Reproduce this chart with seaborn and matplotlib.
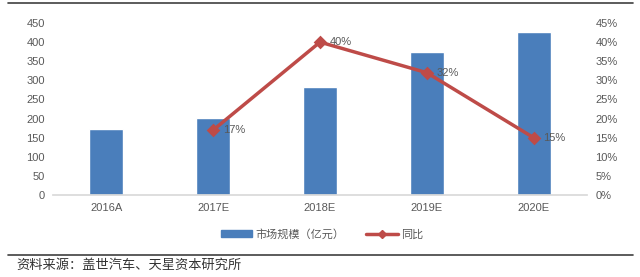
import matplotlib
matplotlib.use("Agg")
import matplotlib.pyplot as plt
import seaborn as sns
import pandas as pd
import numpy as np
from matplotlib.patches import Patch
from matplotlib.lines import Line2D
from matplotlib.ticker import FuncFormatter

years = ["2016A", "2017E", "2018E", "2019E", "2020E"]
market_size = [172, 201, 283, 374, 427]
growth = [np.nan, 17, 40, 32, 15]
growth_labels = ["", "17%", "40%", "32%", "15%"]
left_ticks = [0, 50, 100, 150, 200, 250, 300, 350, 400, 450]
right_ticks = [0, 5, 10, 15, 20, 25, 30, 35, 40, 45]
bar_label = "市场规模（亿元）"
line_label = "同比"
source_text = "资料来源：盖世汽车、天星资本研究所"

BLUE = "#4a7ebb"
RED = "#be4b48"
GREY = "#595959"
NUM_FONT = ["Liberation Sans", "DejaVu Sans"]

sns.set_theme(style="white")
plt.rcParams["font.family"] = ["Noto Sans CJK SC", "DejaVu Sans"]

df = pd.DataFrame({"year": years, "size": market_size, "growth": growth})

fig = plt.figure(figsize=(6.4, 2.77), dpi=100)
ax = fig.add_axes([53 / 640, 1 - 195 / 277, (587 - 53) / 640, (195 - 23) / 277])

sns.barplot(data=df, x="year", y="size", order=years, color=BLUE,
            saturation=1, width=0.32, ax=ax)
ax.set_ylim(0, 450)
ax.set_yticks(left_ticks)

ax2 = ax.twinx()
sns.pointplot(data=df.dropna(), x="year", y="growth", order=years, color=RED,
              markers="D", markersize=5, linewidth=2.5, ax=ax2)
ax2.set_ylim(0, 45)
ax2.set_yticks(right_ticks)
ax2.yaxis.set_major_formatter(FuncFormatter(lambda v, p: f"{v:.0f}%"))
ax.set_xlim(-0.5, 4.5)

for i, (g, lab) in enumerate(zip(growth, growth_labels)):
    if lab:
        ax2.annotate(lab, (i, g), xytext=(7, 0), textcoords="offset points",
                     ha="left", va="center", fontsize=8, color=GREY,
                     family=NUM_FONT)

for a in (ax, ax2):
    for s in a.spines.values():
        s.set_visible(False)
    a.set_xlabel("")
    a.set_ylabel("")
    a.tick_params(length=0, labelsize=8, colors=GREY, pad=6)
    a.grid(False)
ax.spines["bottom"].set_visible(True)
ax.spines["bottom"].set_color("#d9d9d9")
ax.tick_params(axis="y", pad=6)
ax2.tick_params(axis="y", pad=6)
for t in ax.get_xticklabels() + ax.get_yticklabels() + ax2.get_yticklabels():
    t.set_family(NUM_FONT)

handles = [Patch(facecolor=BLUE, edgecolor=BLUE),
           Line2D([0], [0], color=RED, lw=2.5, marker="D", markersize=4)]
fig.legend(handles, [bar_label, line_label], loc="center",
           bbox_to_anchor=(322 / 640, 1 - 234 / 277), ncol=2, frameon=False,
           fontsize=8, labelcolor=GREY, handlelength=2.8, handleheight=0.5,
           columnspacing=2.0, handletextpad=0.3)

fig.add_artist(Line2D([8 / 640, 633 / 640], [1 - 3 / 277, 1 - 3 / 277],
                      color="#404040", lw=1.2))
fig.add_artist(Line2D([8 / 640, 633 / 640], [1 - 255 / 277, 1 - 255 / 277],
                      color="#404040", lw=1.2))
fig.text(16 / 640, 1 - 265 / 277, source_text, fontsize=9.5, color="#333333",
         va="center", ha="left")

fig.savefig("out.png", dpi=100)
